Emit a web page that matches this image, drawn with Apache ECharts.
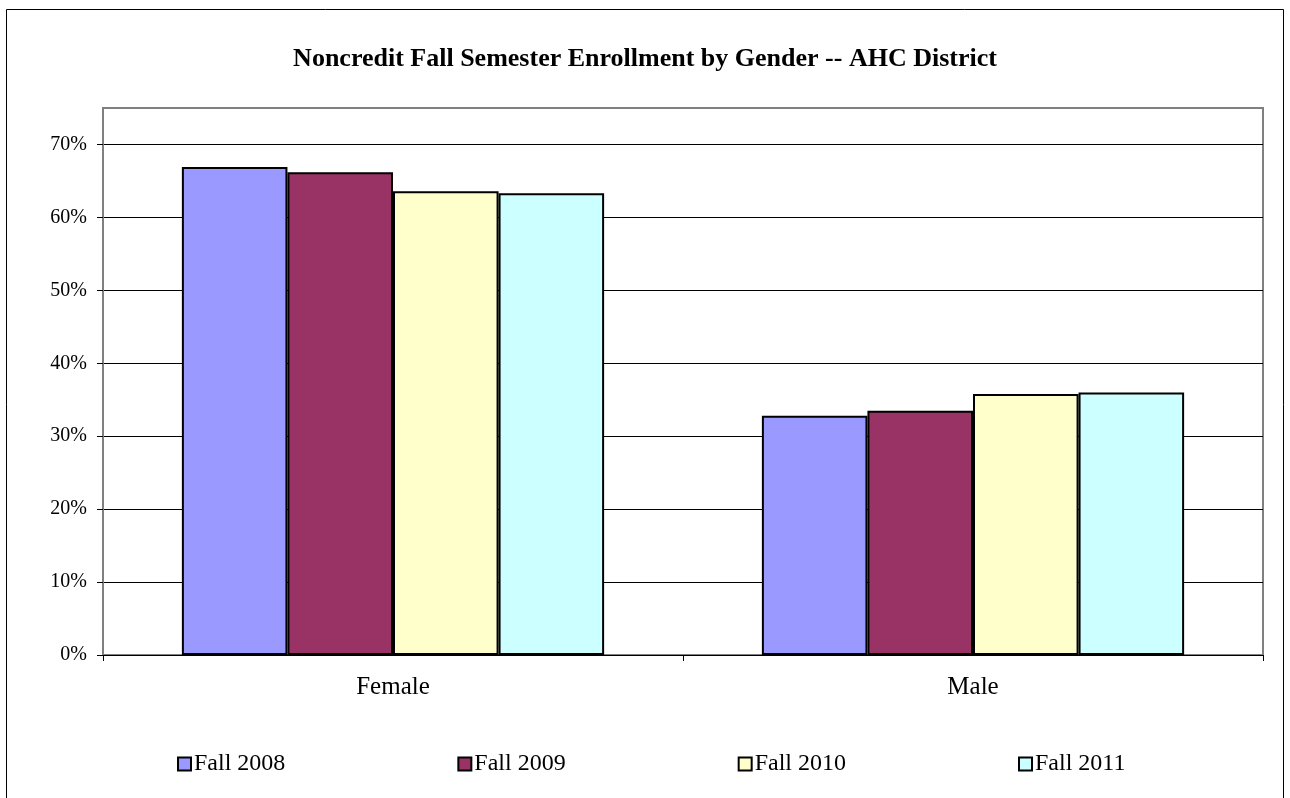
<!DOCTYPE html>
<html>
<head>
<meta charset="utf-8">
<script src="https://cdn.jsdelivr.net/npm/echarts@6/dist/echarts.min.js"></script>
<style>
html,body{margin:0;padding:0;background:#fff;}
#chart{width:1290px;height:798px;}
</style>
</head>
<body>
<div id="chart"></div>
<script>
const categories = ['Female', 'Male'];
const seriesNames = ['Fall 2008', 'Fall 2009', 'Fall 2010', 'Fall 2011'];
const fall2008 = [66.9, 32.8];
const fall2009 = [66.2, 33.5];
const fall2010 = [63.6, 35.8];
const fall2011 = [63.3, 36.0];
const seriesValues = [fall2008, fall2009, fall2010, fall2011];
const colors = ['#9999FF', '#993366', '#FFFFCC', '#CCFFFF'];
const yTicks = [0, 10, 20, 30, 40, 50, 60, 70];

const font = '"Liberation Serif", "Times New Roman", serif';
const chart = echarts.init(document.getElementById('chart'));
chart.setOption({
  animation: false,
  backgroundColor: '#fff',
  title: {
    text: 'Noncredit Fall Semester Enrollment by Gender -- AHC District',
    left: 'center',
    top: 41,
    textStyle: { fontFamily: font, fontSize: 26, fontWeight: 'bold', color: '#000' }
  },
  graphic: [{
    type: 'rect',
    shape: { x: 6.5, y: 9.5, width: 1277, height: 800 },
    style: { fill: 'none', stroke: '#000', lineWidth: 1 },
    silent: true
  }],
  legend: {
    data: seriesNames,
    left: 177,
    top: 752,
    padding: 0,
    itemWidth: 13,
    itemHeight: 13,
    itemGap: 172,
    textStyle: { fontFamily: font, fontSize: 24, color: '#000', padding: [0, 0, 0, -2] },
    icon: 'rect'
  },
  grid: {
    left: 103, right: 27, top: 108, bottom: 143,
    show: true, borderColor: '#808080', borderWidth: 2, backgroundColor: '#fff'
  },
  xAxis: {
    type: 'category',
    data: categories,
    axisLine: { lineStyle: { color: '#000', width: 1 } },
    axisTick: { show: true, length: 6, lineStyle: { color: '#000' } },
    axisLabel: { fontFamily: font, fontSize: 25, color: '#000', margin: 20 }
  },
  yAxis: {
    type: 'value',
    min: 0, max: 75, interval: 10,
    axisLine: { show: true, lineStyle: { color: '#808080', width: 2 } },
    axisTick: { show: true, length: 6, lineStyle: { color: '#000' }, customValues: yTicks },
    splitLine: { lineStyle: { color: '#000', width: 1 } },
    axisLabel: {
      fontFamily: font, fontSize: 20, color: '#000', margin: 16,
      customValues: yTicks,
      formatter: v => v + '%'
    }
  },
  series: seriesNames.map((name, i) => ({
    name: name,
    type: 'bar',
    data: seriesValues[i],
    barGap: '0%',
    barCategoryGap: '27.2%',
    itemStyle: { color: colors[i], borderColor: '#000', borderWidth: 2 }
  }))
});
</script>
</body>
</html>
